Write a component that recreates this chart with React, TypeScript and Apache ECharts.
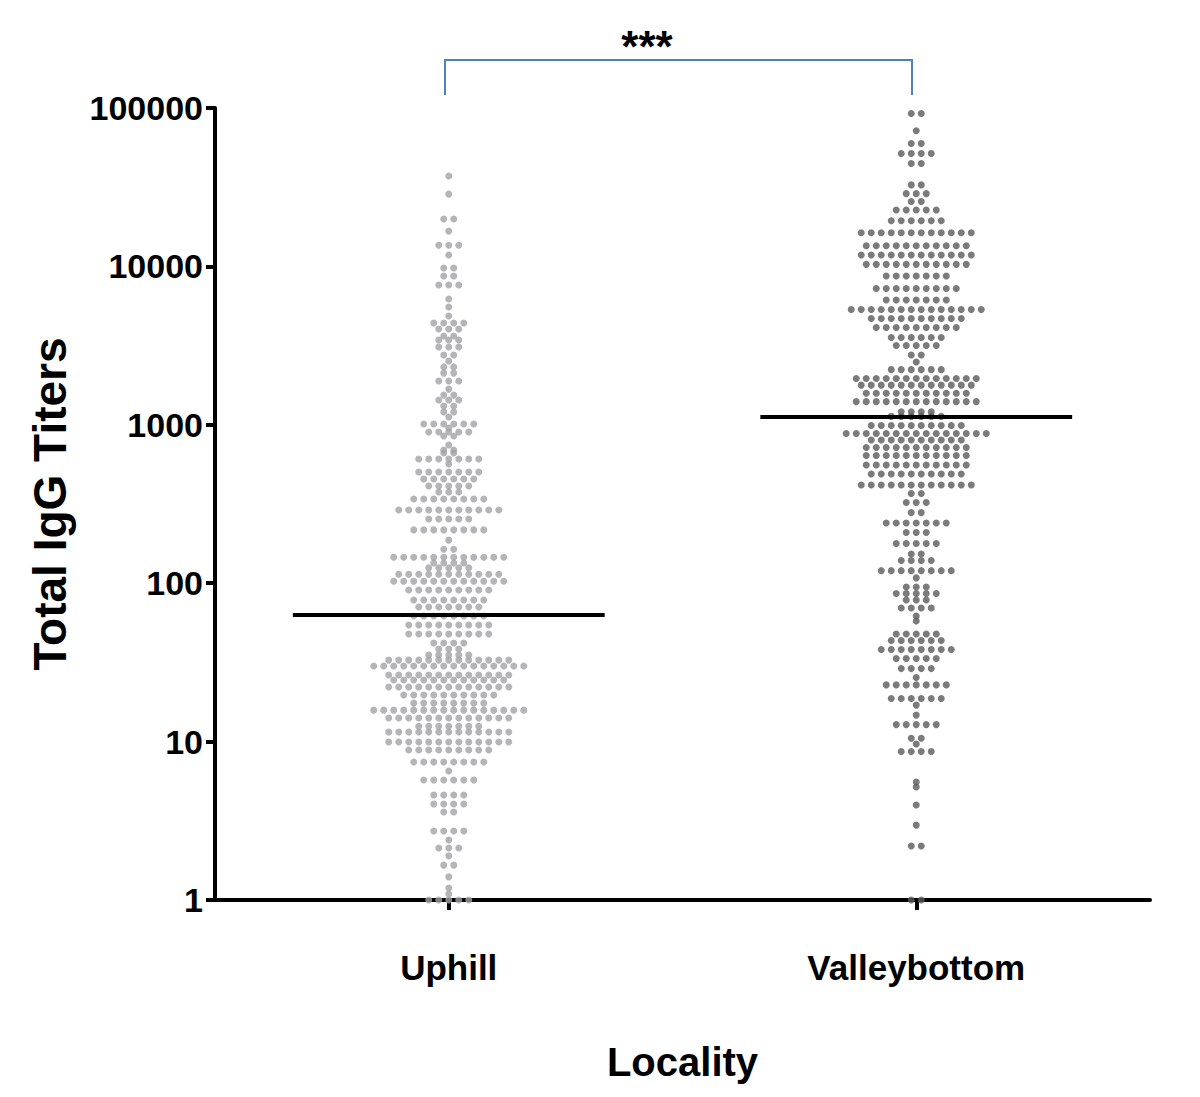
import React, { useEffect, useRef } from "react";
import * as echarts from "echarts";

const categories = ["Uphill", "Valleybottom"];
const categoryPositions = [1, 3];
const yTickValues = [1, 10, 100, 1000, 10000, 100000];
const medians = [63, 1120];

// Uphill: row value and number of dots in that row
const uphillValues = [
  37200, 28600, 19900, 16700, 13600, 11800, 9770, 8700, 7630, 6230, 5540, 4860, 4390, 4030, 3640, 3430,
  3100, 2760, 2530, 2320, 2120, 1890, 1680, 1540, 1435, 1315, 1205, 1120, 1012, 955, 901, 850, 745, 693,
  664, 608, 566, 504, 455, 411, 377, 340, 290, 254, 217, 187, 164, 146, 134, 125, 114, 103, 90.6, 78.3,
  70.8, 62.1, 54.5, 47.8, 41.9, 38.4, 35.2, 32.7, 30.0, 26.3, 24.5, 22.1, 19.7, 17.5, 15.8, 14.1, 12.5,
  11.5, 9.94, 8.85, 7.43, 6.52, 5.72, 4.6, 4.04, 3.59, 2.73, 2.39, 2.13, 1.9, 1.66, 1.4, 1.19, 1.09, 1,
];
const uphillCounts = [
  1, 1, 2, 1, 3, 1, 2, 2, 3, 1, 1, 1, 4, 3, 2, 3,
  3, 2, 1, 2, 2, 3, 1, 2, 3, 2, 2, 1, 6, 1, 5, 2, 1, 2,
  2, 7, 1, 7, 6, 5, 3, 8, 11, 5, 8, 1, 2, 12, 4, 5, 11, 12, 9, 8,
  7, 8, 9, 9, 4, 3, 5, 13, 16, 13, 12, 13, 10, 8, 16, 13, 7,
  13, 13, 9, 8, 1, 6, 4, 4, 2, 4, 1, 3, 1, 2, 1, 1, 1, 5,
];

// Valleybottom: row value and number of dots in that row
const valleyValues = [
  92300, 71900, 59700, 51600, 44600, 32700, 28800, 25700, 22700, 19400, 16300, 13500, 11800, 10300, 8700,
  7260, 6140, 5350, 4690, 4110, 3560, 3170, 2760, 2490, 2230, 1960, 1780, 1580, 1400, 1210, 1130, 990, 881,
  802, 719, 640, 557, 489, 417, 368, 323, 279, 240, 209, 178, 153, 139, 120, 108, 94.6, 86.1, 78.3, 69.7,
  62.1, 57.7, 47.8, 43.5, 38.1, 33.5, 28.9, 25.4, 22.8, 18.7, 17.0, 14.7, 12.8, 10.5, 9.66, 8.66, 5.56,
  5.17, 3.98, 2.97, 2.19, 1,
];
const valleyCounts = [
  2, 1, 2, 4, 2, 2, 3, 2, 5, 6, 12, 11, 12, 11, 7,
  9, 7, 14, 10, 9, 6, 5, 2, 1, 6, 13, 12, 11, 13, 4, 6, 10, 15,
  10, 11, 11, 11, 10, 12, 2, 3, 2, 7, 3, 5, 2, 4, 8, 1, 3, 5, 3, 4,
  1, 1, 5, 6, 8, 5, 4, 1, 7, 6, 1, 1, 5, 2, 1, 4, 1,
  1, 1, 1, 2, 2,
];

const DOT_STEP = 0.0428; // horizontal dot spacing in x-axis units
const MEDIAN_HALF = 0.667;

function swarm(values: number[], counts: number[], center: number) {
  const out: number[][] = [];
  values.forEach((v, r) => {
    const n = counts[r];
    for (let i = 0; i < n; i++) {
      out.push([center + (i - (n - 1) / 2) * DOT_STEP, v]);
    }
  });
  return out;
}

const FONT = "'Liberation Sans', Arial, sans-serif";

export default function App() {
  const ref = useRef<HTMLDivElement>(null);
  useEffect(() => {
    if (!ref.current) return;
    const chart = echarts.init(ref.current, null, { renderer: "svg" });
    const uphillData = swarm(uphillValues, uphillCounts, categoryPositions[0]);
    const valleyData = swarm(valleyValues, valleyCounts, categoryPositions[1]);
    chart.setOption({
      animation: false,
      backgroundColor: "#ffffff",
      grid: { left: 215, right: 50, top: 108, bottom: 197, containLabel: false },
      xAxis: {
        type: "value",
        min: 0,
        max: 4,
        name: "Locality",
        nameLocation: "middle",
        nameGap: 142,
        nameTextStyle: { fontFamily: FONT, fontWeight: "bold", fontSize: 40, color: "#000" },
        axisLine: { show: true, onZero: false, lineStyle: { color: "#000", width: 4 } },
        axisTick: { show: true, customValues: categoryPositions, length: 10, lineStyle: { color: "#000", width: 4 } },
        axisLabel: {
          customValues: categoryPositions,
          margin: 50,
          fontFamily: FONT,
          fontWeight: "bold",
          fontSize: 35,
          color: "#000",
          formatter: (v: number) => {
            const idx = categoryPositions.indexOf(v);
            return idx >= 0 ? categories[idx] : "";
          },
        },
        splitLine: { show: false },
      },
      yAxis: {
        type: "log",
        logBase: 10,
        min: yTickValues[0],
        max: yTickValues[yTickValues.length - 1],
        name: "Total IgG Titers",
        nameLocation: "middle",
        nameGap: 142,
        nameTextStyle: { fontFamily: FONT, fontWeight: "bold", fontSize: 46, color: "#000" },
        axisLine: { show: true, lineStyle: { color: "#000", width: 4 } },
        axisTick: { show: true, length: 9, lineStyle: { color: "#000", width: 4 } },
        minorTick: { show: false },
        axisLabel: {
          margin: 12,
          fontFamily: FONT,
          fontWeight: "bold",
          fontSize: 34,
          color: "#000",
          formatter: (v: number) => String(Math.round(v)),
        },
        splitLine: { show: false },
      },
      series: [
        {
          name: categories[0],
          type: "scatter",
          data: uphillData,
          symbol: "circle",
          symbolSize: 7,
          itemStyle: { color: "#a3a3a6" },
          z: 5,
        },
        {
          name: categories[1],
          type: "scatter",
          data: valleyData,
          symbol: "circle",
          symbolSize: 7,
          itemStyle: { color: "#5a5a5a" },
          z: 5,
        },
        {
          type: "line",
          data: [
            [categoryPositions[0] - MEDIAN_HALF, medians[0]],
            [categoryPositions[0] + MEDIAN_HALF, medians[0]],
          ],
          symbol: "none",
          lineStyle: { color: "#000", width: 4 },
          z: 6,
        },
        {
          type: "line",
          data: [
            [categoryPositions[1] - MEDIAN_HALF, medians[1]],
            [categoryPositions[1] + MEDIAN_HALF, medians[1]],
          ],
          symbol: "none",
          lineStyle: { color: "#000", width: 4 },
          z: 6,
        },
      ],
      graphic: [
        {
          type: "polyline",
          shape: { points: [[445, 95], [445, 60], [912, 60], [912, 95]] },
          style: { stroke: "#4f81bd", lineWidth: 2, fill: null },
        },
        {
          type: "text",
          x: 647,
          y: 46,
          style: {
            text: "***",
            fontFamily: FONT,
            fontWeight: "bold",
            fontSize: 44,
            fill: "#000",
            align: "center",
            verticalAlign: "middle",
          },
        },
      ],
    });
    return () => chart.dispose();
  }, []);
  return (
    <div
      ref={ref}
      style={{ position: "fixed", left: 0, top: 0, width: 1200, height: 1097, background: "#fff" }}
    />
  );
}
